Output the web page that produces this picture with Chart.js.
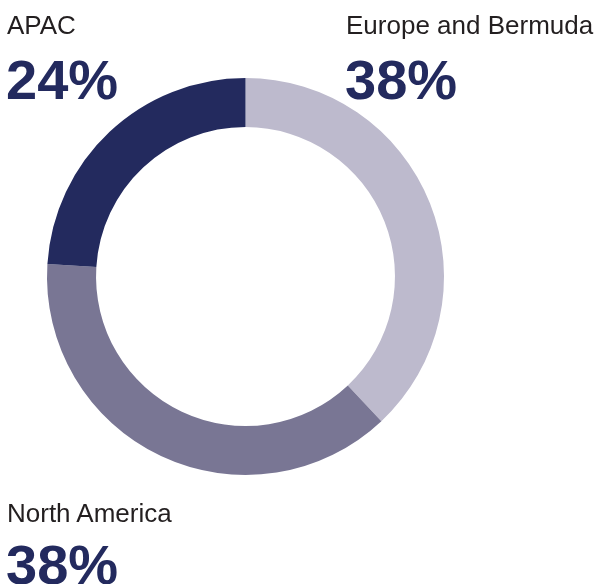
<!DOCTYPE html>
<html>
<head>
<meta charset="utf-8">
<script src="https://cdn.jsdelivr.net/npm/chart.js"></script>
<style>
  html, body { margin: 0; padding: 0; background: #ffffff; }
  #wrap { position: relative; width: 598px; height: 584px; overflow: hidden; }
  #c { position: absolute; left: 0; top: 0; }
  .lbl { position: absolute; font-family: "Liberation Sans", Arial, sans-serif; font-size: 26px; line-height: 26px; color: #231f20; white-space: nowrap; }
  .pct { position: absolute; font-family: "Liberation Sans", Arial, sans-serif; font-weight: bold; font-size: 56px; line-height: 56px; color: #232a5e; white-space: nowrap; }
</style>
</head>
<body>
<div id="wrap">
  <canvas id="c" width="598" height="584"></canvas>
  <div class="lbl" id="l0"></div><div class="pct" id="p0"></div>
  <div class="lbl" id="l1"></div><div class="pct" id="p1"></div>
  <div class="lbl" id="l2"></div><div class="pct" id="p2"></div>
</div>
<script>
const categories = ["Europe and Bermuda", "North America", "APAC"];
const values = [38, 38, 24];
const colors = ["#bdbacd", "#797694", "#232a5e"];

// label placements (text boxes around the ring)
const labelPos = [
  { id: 0, lx: 346, ly: 12, px: 345, py: 52 },   // Europe and Bermuda
  { id: 1, lx: 7, ly: 500, px: 6, py: 537 },     // North America
  { id: 2, lx: 7, ly: 12, px: 6, py: 52 }        // APAC
];
labelPos.forEach(p => {
  const l = document.getElementById('l' + p.id);
  const v = document.getElementById('p' + p.id);
  l.textContent = categories[p.id];
  v.textContent = values[p.id] + '%';
  l.style.left = p.lx + 'px'; l.style.top = p.ly + 'px';
  v.style.left = p.px + 'px'; v.style.top = p.py + 'px';
});

new Chart(document.getElementById('c'), {
  type: 'doughnut',
  data: {
    labels: categories,
    datasets: [{
      data: values,
      backgroundColor: colors,
      borderWidth: 0,
      hoverOffset: 0
    }]
  },
  options: {
    responsive: false,
    animation: false,
    cutout: '75.3%',
    rotation: 0,
    layout: { padding: { left: 47, right: 154, top: 78, bottom: 109 } },
    plugins: {
      legend: { display: false },
      tooltip: { enabled: false }
    }
  }
});
</script>
</body>
</html>
